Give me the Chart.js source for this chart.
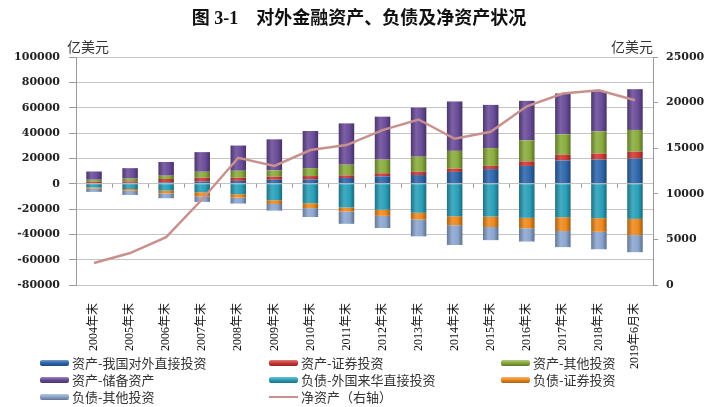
<!DOCTYPE html>
<html>
<head>
<meta charset="utf-8">
<script src="https://cdn.jsdelivr.net/npm/chart.js@4.4.1/dist/chart.umd.min.js"></script>
<style>
  html, body { margin: 0; padding: 0; background: #fff; }
  #wrap { position: relative; width: 715px; height: 407px; }
  #legend { position: absolute; left: 0; top: 0; width: 715px; height: 407px; pointer-events: none;
            font: 13px "Noto Sans CJK SC", sans-serif; color: #333; }
  .item { position: absolute; display: flex; align-items: center; height: 17px; white-space: nowrap; }
  .sw { width: 29px; height: 6px; margin-right: 3px; border-radius: 2px; }
  .sw.line { height: 2px; border-radius: 0; }
</style>
</head>
<body>
<div id="wrap">
  <canvas id="chart" width="715" height="407"></canvas>
  <div id="legend"></div>
</div>
<script>
// categories and series, 亿美元
const categories = ["2004年末", "2005年末", "2006年末", "2007年末", "2008年末", "2009年末", "2010年末", "2011年末",
                    "2012年末", "2013年末", "2014年末", "2015年末", "2016年末", "2017年末", "2018年末", "2019年6月末"];

const assetDirect     = [530, 650, 1100, 1800, 2200, 3100, 3400, 4500, 5800, 6800, 9300, 11500, 14000, 18300, 19000, 19800];
const assetSecurities = [920, 1170, 2600, 2900, 2500, 2400, 2600, 2000, 2400, 2600, 2600, 2600, 3600, 4500, 4800, 5500];
const assetOther      = [1660, 2160, 2600, 4700, 5500, 5000, 6300, 8500, 10800, 11900, 14000, 14000, 16600, 16200, 17500, 17100];
const reserveAssets   = [6500, 8260, 10800, 15500, 19900, 24500, 29300, 32600, 33900, 38800, 39000, 34100, 31200, 32200, 31700, 32200];

const liabDirect      = [-3000, -4200, -5500, -6800, -8300, -13100, -15500, -18800, -20600, -23000, -25700, -26000, -27000, -26500, -27200, -27800];
const liabSecurities  = [-900, -1300, -2200, -3400, -2700, -2900, -3800, -3200, -4800, -5300, -7100, -8200, -8200, -10900, -10800, -12800];
const liabOther       = [-2600, -3400, -3800, -4200, -4700, -5300, -7000, -9700, -9600, -13300, -15600, -10400, -10500, -12700, -13800, -13500];

const netAssets       = [2410, 3500, 5250, 9400, 13950, 13050, 14800, 15340, 16980, 18150, 16030, 16800, 19600, 21000, 21360, 20260];

const leftTicks  = { min: -80000, max: 100000, step: 20000 };
const rightTicks = { min: 0, max: 25000, step: 5000 };

const titleText = "图 3-1    对外金融资产、负债及净资产状况";
const unitText = "亿美元";

// helper: mix a hex colour toward white (f>0) or black (f<0)
function shade(hex, f) {
  const n = parseInt(hex.slice(1), 16);
  let r = (n >> 16) & 255, g = (n >> 8) & 255, b = n & 255;
  const t = f < 0 ? 0 : 255, p = Math.abs(f);
  r = Math.round(r + (t - r) * p); g = Math.round(g + (t - g) * p); b = Math.round(b + (t - b) * p);
  return `rgb(${r},${g},${b})`;
}

// horizontal bevel gradient for each bar, like the old office 3D look
function barFill(base) {
  return (ctx) => {
    const chart = ctx.chart;
    const xs = chart.scales && chart.scales.x;
    if (!chart.chartArea || !xs || ctx.type !== "data") return base;
    const cx = xs.getPixelForValue(ctx.dataIndex);
    const g = chart.ctx.createLinearGradient(cx - 8, 0, cx + 8, 0);
    g.addColorStop(0, shade(base, -0.3));
    g.addColorStop(0.35, shade(base, 0.12));
    g.addColorStop(0.7, base);
    g.addColorStop(1, shade(base, -0.35));
    return g;
  };
}

function barSet(label, data, color) {
  return {
    type: "bar",
    label: label,
    data: data,
    stack: "iip",
    yAxisID: "y",
    order: 1,
    backgroundColor: barFill(color),
    swatch: color,
    borderWidth: 0,
    barPercentage: 0.43,
    categoryPercentage: 1.0
  };
}

// text that sits outside the plot: title and unit labels, plus small ticks on the zero line
const extras = {
  id: "extras",
  afterDraw(chart) {
    const { ctx, scales } = chart;
    ctx.save();
    ctx.fillStyle = "#111";
    ctx.textBaseline = "middle";
    ctx.textAlign = "center";
    ctx.font = 'bold 18px "Liberation Serif", "Noto Sans CJK SC", serif';
    ctx.fillText(titleText, 359, 19);

    ctx.fillStyle = "#333";
    ctx.textAlign = "left";
    ctx.font = '14px "Noto Sans CJK SC", sans-serif';
    ctx.fillText(unitText, 67, 47);
    ctx.fillText(unitText, 611, 47);

    // category tick marks on the zero line
    const y0 = scales.y.getPixelForValue(0);
    ctx.strokeStyle = "#9a9a9a";
    ctx.lineWidth = 1;
    for (let i = 0; i < categories.length - 1; i++) {
      const xb = Math.round((scales.x.getPixelForValue(i) + scales.x.getPixelForValue(i + 1)) / 2) + 0.5;
      ctx.beginPath();
      ctx.moveTo(xb, y0);
      ctx.lineTo(xb, y0 + 4);
      ctx.stroke();
    }
    ctx.restore();
  }
};

const tickFont = { family: '"DejaVu Serif", serif', size: 11, weight: "bold" };
const plainNumber = (v) => String(v);

const chart = new Chart(document.getElementById("chart"), {
  data: {
    labels: categories,
    datasets: [
      barSet("资产-我国对外直接投资", assetDirect, "#2f68ad"),
      barSet("资产-证券投资", assetSecurities, "#cf3a36"),
      barSet("资产-其他投资", assetOther, "#8aac3e"),
      barSet("资产-储备资产", reserveAssets, "#6a4c99"),
      barSet("负债-外国来华直接投资", liabDirect, "#2aa0b9"),
      barSet("负债-证券投资", liabSecurities, "#ee8a1e"),
      barSet("负债-其他投资", liabOther, "#8ca6d0"),
      {
        type: "line",
        label: "净资产（右轴）",
        data: netAssets,
        yAxisID: "y2",
        order: 0,
        borderColor: "#c9918e",
        backgroundColor: "#c9918e",
        swatch: "#c9918e",
        borderWidth: 2.5,
        pointRadius: 0,
        tension: 0,
        fill: false
      }
    ]
  },
  options: {
    responsive: false,
    animation: false,
    layout: { padding: { top: 57, bottom: 0, left: 0, right: 0 } },
    plugins: {
      legend: { display: false },
      tooltip: { enabled: false },
      title: { display: false }
    },
    scales: {
      x: {
        stacked: true,
        grid: { display: false },
        border: { display: false },
        ticks: {
          autoSkip: false,
          minRotation: 90,
          maxRotation: 90,
          padding: 10,
          color: "#111",
          font: { family: '"Liberation Serif", "Noto Sans CJK SC", serif', size: 12 }
        },
        afterFit(scale) { scale.height = 122; }
      },
      y: {
        position: "left",
        stacked: true,
        min: leftTicks.min,
        max: leftTicks.max,
        grid: { color: "#c4c4c4", tickLength: 7, tickColor: "#9a9a9a" },
        border: { color: "#9a9a9a" },
        ticks: { stepSize: leftTicks.step, padding: 9, color: "#222", font: tickFont, callback: plainNumber },
        afterFit(scale) { scale.width = 76; }
      },
      y2: {
        position: "right",
        min: rightTicks.min,
        max: rightTicks.max,
        grid: { drawOnChartArea: false, tickLength: 5, color: "#9a9a9a" },
        border: { color: "#9a9a9a" },
        ticks: { stepSize: rightTicks.step, padding: 8, color: "#222", font: tickFont, callback: plainNumber },
        afterFit(scale) { scale.width = 62; }
      }
    }
  },
  plugins: [extras]
});

// legend: three columns, laid out from the chart's own datasets
const legendCols = [40, 269, 501];
const legendRows = [354, 371, 388];
const legendEl = document.getElementById("legend");
chart.data.datasets.forEach((ds, i) => {
  const item = document.createElement("div");
  item.className = "item";
  item.style.left = legendCols[i % 3] + "px";
  item.style.top = legendRows[Math.floor(i / 3)] + "px";
  const sw = document.createElement("span");
  sw.className = ds.type === "line" ? "sw line" : "sw";
  if (ds.type === "line") {
    sw.style.background = ds.swatch;
  } else {
    sw.style.background = `linear-gradient(${shade(ds.swatch, 0.35)}, ${ds.swatch} 45%, ${shade(ds.swatch, -0.3)})`;
  }
  const txt = document.createElement("span");
  txt.textContent = ds.label;
  item.appendChild(sw);
  item.appendChild(txt);
  legendEl.appendChild(item);
});
</script>
</body>
</html>
